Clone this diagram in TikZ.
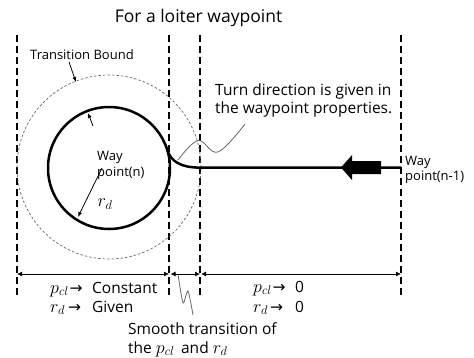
\RequirePackage{fix-cm}
\documentclass[tikz,border=0pt]{standalone}
\usepackage{fontspec}
\setmainfont{Open Sans}
\newfontfamily\arrfont{DejaVu Sans}
\newcommand\mth[1]{{\fontsize{18}{20}\selectfont$#1$}}
\usetikzlibrary{arrows.meta}
\begin{document}
\begin{tikzpicture}[x=1pt,y=-1pt,
  guide/.style={line width=1.5pt, dash pattern=on 7pt off 4pt},
  bound/.style={draw=black!60, line width=0.7pt, dash pattern=on 2.5pt off 2pt},
  track/.style={line width=2.5pt},
  callout/.style={draw=black!60, line width=0.8pt},
  dim/.style={line width=0.8pt, {Latex[length=5pt,width=5pt]}-{Latex[length=5pt,width=5pt]}},
  thinarrow/.style={line width=0.8pt, -{Latex[length=5pt,width=4pt]}},
  lbl/.style={inner sep=0pt, anchor=base west},
  fsA/.style={font=\fontsize{17.5}{21}\selectfont},
  fsB/.style={font=\fontsize{13}{15}\selectfont},
  fsC/.style={font=\fontsize{15.5}{18}\selectfont},
]
\useasboundingbox (0,0) rectangle (474,357);
% vertical guide lines
\foreach \gx/\nm in {17/ga,169/gb,200/gc,401/gd}{
  \coordinate (\nm top) at (\gx,35);
  \coordinate (\nm bot) at (\gx,298);
  \draw[guide] (\nm top) -- (\nm bot);
}
% transition bound
\coordinate (wpn) at (109,168);
\draw[bound] (109,167) circle[radius=92];
% loiter circle and track
\draw[track] (wpn) circle[radius=61];
\coordinate (leave) at (167.3,150);
\coordinate (join) at (200,167.6);
\coordinate (wpprev) at (401,167.6);
\draw[track, line cap=butt] (leave) .. controls (170.8,161.5) and (181,167.6) .. (join) -- (wpprev);
% big direction arrow
\fill (341,167.5) -- (352,155) -- (352,161) -- (381,161) -- (381,174) -- (352,174) -- (352,180) -- cycle;
% small arrows
\coordinate (tbtail) at (69,62);
\coordinate (tbhead) at (76,82);
\draw[thinarrow] (tbtail) -- (tbhead);
\coordinate (dirtail) at (93,126);
\coordinate (dirhead) at (88,113);
\draw[thinarrow] (dirtail) -- (dirhead);
\coordinate (rdtail) at (102,168);
\coordinate (rdhead) at (78,217);
\draw[thinarrow] (rdtail) -- (rdhead);
% callouts
\draw[callout] plot[smooth, tension=0.6] coordinates {(178,160) (198,140.5) (218,152) (245,124)};
\draw[callout] plot[smooth, tension=0.4] coordinates {(178,274) (183,303) (188,291) (193,315)};
% dimension lines
\coordinate (d0) at (17,274);
\coordinate (d1) at (169,274);
\coordinate (d2) at (170.5,274);
\coordinate (d3) at (200,274);
\coordinate (d4) at (201,274);
\coordinate (d5) at (401,274);
\draw[dim] (d0) -- (d1);
\draw[dim] (d2) -- (d3);
\draw[dim] (d4) -- (d5);
% texts
\node[fsA, inner sep=0pt, anchor=base] (title) at (198.5,22.7) {For a loiter waypoint};
\node[fsB, lbl] (tb) at (30,59.3) {Transition Bound};
\node[fsC, lbl] (turn1) at (215,95) {Turn direction is given in};
\node[fsC, lbl] (turn2) at (215,113) {the waypoint properties.};
\node[fsB, lbl] (way1) at (97,160) {Way};
\node[fsB, lbl] (way2) at (97,176) {point(n)};
\node[fsC, inner sep=0pt] (rd) at (105,204) {\mth{r_d}};
\node[fsB, lbl] (wayp1) at (405,165) {Way};
\node[fsB, lbl] (wayp2) at (405,180.5) {point(n-1)};
% bottom left
\node[fsC, lbl] (lp) at (50,293) {\mth{p_{cl}}};
\node[fsC, lbl, xshift=0.5pt] (la1) at (lp.base east) {\arrfont →};
\node[fsC, lbl] (lconst) at (92,293) {Constant};
\node[fsC, lbl] (lr) at (50,312) {\mth{r_d}};
\node[fsC, lbl] (la2) at (68,312) {\arrfont →};
\node[fsC, lbl] (lgiven) at (92,312) {Given};
% bottom right
\node[fsC, lbl] (rp) at (253,292) {\mth{p_{cl}}};
\node[fsC, lbl, xshift=0.5pt] (ra1) at (rp.base east) {\arrfont →};
\node[fsC, lbl] (rz1) at (295,292) {0};
\node[fsC, lbl] (rr) at (253,312) {\mth{r_d}};
\node[fsC, lbl] (ra2) at (270,312) {\arrfont →};
\node[fsC, lbl] (rz2) at (295,312) {0};
% smooth transition
\node[fsC, lbl] (sm1) at (128,334.5) {Smooth transition of};
\node[fsC, lbl] (sm2) at (128,353) {the \mth{p_{cl}}\, and \mth{r_d}};
\end{tikzpicture}
\end{document}
